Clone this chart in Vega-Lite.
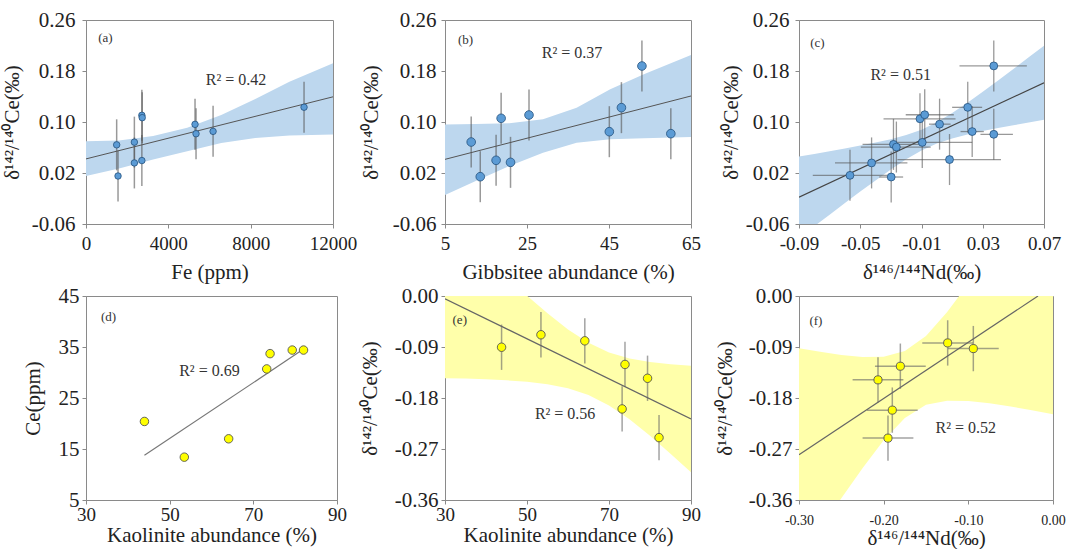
{
  "$schema": "https://vega.github.io/schema/vega-lite/v6.json",
  "background": "white",
  "padding": {"left": 0, "top": 8, "right": 0, "bottom": 0},
  "columns": 3,
  "spacing": {"row": 72, "column": 108},
  "align": "each",
  "bounds": "flush",
  "resolve": {"scale": {"x": "independent", "y": "independent"}},
  "config": {
    "font": "Liberation Serif, Times New Roman, serif",
    "view": {"stroke": "#8a8a8a", "strokeWidth": 1},
    "style": {"guide-label": {"font": "Liberation Serif, Times New Roman, serif"}, "guide-title": {"font": "Liberation Serif, Times New Roman, serif"}},
    "axis": {"grid": false, "domainColor": "#8a8a8a", "tickColor": "#8a8a8a", "tickSize": 4, "labelFont": "Liberation Serif, Times New Roman, serif", "titleFont": "Liberation Serif, Times New Roman, serif", "labelFontSize": 19, "titleFontSize": 21, "titleFontWeight": "normal", "labelColor": "#222222", "titleColor": "#222222", "labelFlush": false, "labelOverlap": false},
    "axisY": {"labelFontSize": 21},
    "text": {"font": "Liberation Serif, Times New Roman, serif", "color": "#333333"}
  },
  "datasets": {
    "bandA": [{"x":0,"y":0.0697,"y2":0.0153},{"x":1605,"y":0.071,"y2":0.027},{"x":3260,"y":0.078,"y2":0.041},{"x":4916,"y":0.091,"y2":0.054},{"x":6571,"y":0.111,"y2":0.067},{"x":8226,"y":0.136,"y2":0.075},{"x":9881,"y":0.163,"y2":0.079},{"x":12000,"y":0.192,"y2":0.0805}],
    "lineA": [{"x":0,"y":0.0421},{"x":12000,"y":0.1395}],
    "ptsA": [{"x":1490,"y":0.0642},{"x":1556,"y":0.0153},{"x":2350,"y":0.0684},{"x":2350,"y":0.0358},{"x":2714,"y":0.1105},{"x":2731,"y":0.1068},{"x":2714,"y":0.0395},{"x":5297,"y":0.0963},{"x":5346,"y":0.0816},{"x":6174,"y":0.0853},{"x":10593,"y":0.1232}],
    "evA": [{"x":1490,"y":0.0242,"y2":0.1042},{"x":1556,"y":-0.0247,"y2":0.0553},{"x":2350,"y":0.0284,"y2":0.1084},{"x":2350,"y":-0.0042,"y2":0.0758},{"x":2714,"y":0.0705,"y2":0.1505},{"x":2731,"y":0.0668,"y2":0.1468},{"x":2714,"y":-0.0005,"y2":0.0795},{"x":5297,"y":0.0563,"y2":0.1363},{"x":5346,"y":0.0416,"y2":0.1216},{"x":6174,"y":0.0453,"y2":0.1253},{"x":10593,"y":0.0832,"y2":0.1632}],
    "bandB": [{"x":5,"y":0.096,"y2":-0.0145},{"x":12.5,"y":0.097,"y2":0.0075},{"x":20.7,"y":0.098,"y2":0.031},{"x":28.9,"y":0.1045,"y2":0.0519},{"x":37.1,"y":0.1225,"y2":0.0676},{"x":45.3,"y":0.1512,"y2":0.0728},{"x":53.5,"y":0.1748,"y2":0.0744},{"x":65,"y":0.2051,"y2":0.0765}],
    "lineB": [{"x":5,"y":0.0414},{"x":65,"y":0.1408}],
    "ptsB": [{"x":11.39,"y":0.0686},{"x":13.6,"y":0.0142},{"x":17.46,"y":0.0399},{"x":18.69,"y":0.1058},{"x":20.98,"y":0.0367},{"x":25.49,"y":0.111},{"x":45.08,"y":0.0848},{"x":48.03,"y":0.1225},{"x":53.03,"y":0.1878},{"x":60.08,"y":0.0817}],
    "evB": [{"x":11.39,"y":0.0286,"y2":0.1086},{"x":13.6,"y":-0.0258,"y2":0.0542},{"x":17.46,"y":-0.0001,"y2":0.0799},{"x":18.69,"y":0.0658,"y2":0.1458},{"x":20.98,"y":-0.0033,"y2":0.0767},{"x":25.49,"y":0.071,"y2":0.151},{"x":45.08,"y":0.0448,"y2":0.1248},{"x":48.03,"y":0.0825,"y2":0.1625},{"x":53.03,"y":0.1478,"y2":0.2278},{"x":60.08,"y":0.0417,"y2":0.1217}],
    "bandC": [{"x":-0.09,"y":0.0458,"y2":-0.0818},{"x":-0.08,"y":0.0499,"y2":-0.0635},{"x":-0.07,"y":0.0541,"y2":-0.0453},{"x":-0.06,"y":0.0584,"y2":-0.0272},{"x":-0.05,"y":0.063,"y2":-0.0092},{"x":-0.04,"y":0.0678,"y2":0.0084},{"x":-0.03,"y":0.0731,"y2":0.0255},{"x":-0.02,"y":0.0795,"y2":0.0415},{"x":-0.01,"y":0.088,"y2":0.0554},{"x":0,"y":0.0996,"y2":0.0664},{"x":0.01,"y":0.1141,"y2":0.0743},{"x":0.02,"y":0.1303,"y2":0.0805},{"x":0.03,"y":0.1475,"y2":0.0857},{"x":0.04,"y":0.1652,"y2":0.0904},{"x":0.05,"y":0.1832,"y2":0.095},{"x":0.06,"y":0.2014,"y2":0.0992},{"x":0.07,"y":0.2196,"y2":0.1034}],
    "lineC": [{"x":-0.09,"y":-0.018},{"x":0.07,"y":0.1615}],
    "ptsC": [{"x":-0.0567,"y":0.0163},{"x":-0.0426,"y":0.0358},{"x":-0.0298,"y":0.0137},{"x":-0.0283,"y":0.0649},{"x":-0.0264,"y":0.0607},{"x":-0.011,"y":0.105},{"x":-0.0079,"y":0.1114},{"x":-0.0095,"y":0.068},{"x":0.0018,"y":0.0966},{"x":0.0083,"y":0.0411},{"x":0.0202,"y":0.123},{"x":0.0231,"y":0.085},{"x":0.0372,"y":0.188},{"x":0.0372,"y":0.0807}],
    "evC": [{"x":-0.0567,"y":-0.0237,"y2":0.0563},{"x":-0.0426,"y":-0.0042,"y2":0.0758},{"x":-0.0298,"y":-0.0263,"y2":0.0537},{"x":-0.0283,"y":0.0249,"y2":0.1049},{"x":-0.0264,"y":0.0207,"y2":0.1007},{"x":-0.011,"y":0.065,"y2":0.145},{"x":-0.0079,"y":0.0714,"y2":0.1514},{"x":-0.0095,"y":0.028,"y2":0.108},{"x":0.0018,"y":0.0566,"y2":0.1366},{"x":0.0083,"y":0.0011,"y2":0.0811},{"x":0.0202,"y":0.083,"y2":0.163},{"x":0.0231,"y":0.045,"y2":0.125},{"x":0.0372,"y":0.148,"y2":0.228},{"x":0.0372,"y":0.0407,"y2":0.1207}],
    "ehC": [{"x":-0.081,"x2":-0.0322,"y":0.0163},{"x":-0.0665,"x2":-0.0192,"y":0.0358},{"x":-0.0376,"x2":-0.022,"y":0.0137},{"x":-0.0485,"x2":-0.0073,"y":0.0649},{"x":-0.0496,"x2":-0.004,"y":0.0607},{"x":-0.0348,"x2":0.0122,"y":0.105},{"x":-0.0203,"x2":0.0111,"y":0.1114},{"x":-0.0279,"x2":0.0231,"y":0.068},{"x":-0.0051,"x2":0.009,"y":0.0966},{"x":-0.0257,"x2":0.0419,"y":0.0411},{"x":0.01,"x2":0.0296,"y":0.123},{"x":0.0155,"x2":0.0307,"y":0.085},{"x":0.0148,"x2":0.0588,"y":0.188},{"x":0.0285,"x2":0.0497,"y":0.0807}],
    "lineD": [{"x":43.97,"y":13.76},{"x":81.3,"y":34.2}],
    "ptsD": [{"x":43.97,"y":20.4},{"x":53.5,"y":13.4},{"x":64.1,"y":17.0},{"x":73.2,"y":30.7},{"x":74.0,"y":33.7},{"x":79.3,"y":34.4},{"x":82.0,"y":34.4}],
    "bandE": [{"x":30,"y":0.135,"y2":-0.145},{"x":35,"y":0.1007,"y2":-0.1457},{"x":40,"y":0.0666,"y2":-0.147},{"x":45,"y":0.033,"y2":-0.1488},{"x":50,"y":0.0005,"y2":-0.1515},{"x":55,"y":-0.0306,"y2":-0.1558},{"x":60,"y":-0.059,"y2":-0.1628},{"x":65,"y":-0.0825,"y2":-0.1747},{"x":70,"y":-0.0995,"y2":-0.1931},{"x":75,"y":-0.1101,"y2":-0.2177},{"x":80,"y":-0.1166,"y2":-0.2466},{"x":85,"y":-0.1204,"y2":-0.2782},{"x":90,"y":-0.123,"y2":-0.311}],
    "lineE": [{"x":30,"y":-0.0048},{"x":90,"y":-0.217}],
    "ptsE": [{"x":43.8,"y":-0.0904},{"x":53.4,"y":-0.0684},{"x":64.1,"y":-0.0791},{"x":73.9,"y":-0.1208},{"x":79.4,"y":-0.1452},{"x":73.2,"y":-0.1993},{"x":82.2,"y":-0.2499}],
    "evE": [{"x":43.8,"y":-0.1304,"y2":-0.0504},{"x":53.4,"y":-0.1084,"y2":-0.0284},{"x":64.1,"y":-0.1191,"y2":-0.0391},{"x":73.9,"y":-0.1608,"y2":-0.0808},{"x":79.4,"y":-0.1852,"y2":-0.1052},{"x":73.2,"y":-0.2393,"y2":-0.1593},{"x":82.2,"y":-0.2899,"y2":-0.2099}],
    "bandF": [{"x":-0.3,"y":-0.0921,"y2":-0.4681},{"x":-0.275,"y":-0.0986,"y2":-0.412},{"x":-0.25,"y":-0.1041,"y2":-0.3569},{"x":-0.225,"y":-0.1076,"y2":-0.3038},{"x":-0.2,"y":-0.1071,"y2":-0.2547},{"x":-0.175,"y":-0.0971,"y2":-0.2151},{"x":-0.15,"y":-0.0705,"y2":-0.1921},{"x":-0.125,"y":-0.0283,"y2":-0.1847},{"x":-0.1,"y":0.0218,"y2":-0.1852},{"x":-0.075,"y":0.0755,"y2":-0.1893},{"x":-0.05,"y":0.1307,"y2":-0.1949},{"x":-0.025,"y":0.1869,"y2":-0.2015},{"x":0,"y":0.2435,"y2":-0.2085}],
    "lineF": [{"x":-0.3,"y":-0.2801},{"x":-0.0177,"y":0}],
    "ptsF": [{"x":-0.2067,"y":-0.148},{"x":-0.1803,"y":-0.1239},{"x":-0.1898,"y":-0.2014},{"x":-0.1949,"y":-0.2508},{"x":-0.1244,"y":-0.0828},{"x":-0.0941,"y":-0.0928}],
    "evF": [{"x":-0.2067,"y":-0.188,"y2":-0.108},{"x":-0.1803,"y":-0.1639,"y2":-0.0839},{"x":-0.1898,"y":-0.2414,"y2":-0.1614},{"x":-0.1949,"y":-0.2908,"y2":-0.2108},{"x":-0.1244,"y":-0.1228,"y2":-0.0428},{"x":-0.0941,"y":-0.1328,"y2":-0.0528}],
    "ehF": [{"x":-0.2367,"x2":-0.1767,"y":-0.148},{"x":-0.2103,"x2":-0.1503,"y":-0.1239},{"x":-0.2198,"x2":-0.1598,"y":-0.2014},{"x":-0.2249,"x2":-0.1649,"y":-0.2508},{"x":-0.1544,"x2":-0.0944,"y":-0.0828},{"x":-0.1241,"x2":-0.0641,"y":-0.0928}]
  },
  "concat": [
    {
      "width": 247, "height": 204,
      "encoding": {
        "x": {"field": "x", "type": "quantitative", "scale": {"domain": [0, 12000], "nice": false, "zero": false}, "axis": {"values": [0, 4000, 8000, 12000], "format": "d", "title": "Fe (ppm)", "labelPadding": 6, "titlePadding": 8}},
        "y": {"field": "y", "type": "quantitative", "scale": {"domain": [-0.06, 0.26], "nice": false, "zero": false}, "axis": {"values": [-0.06, 0.02, 0.1, 0.18, 0.26], "format": ".2f", "labelExpr": "replace(datum.label, '−', '-')", "title": "δ¹⁴²/¹⁴⁰Ce(‰)", "labelPadding": 7, "titlePadding": 9}}
      },
      "layer": [
        {"data": {"name": "bandA"}, "mark": {"type": "area", "color": "#bdd7ee", "opacity": 1, "clip": true}, "encoding": {"y2": {"field": "y2"}}},
        {"data": {"name": "lineA"}, "mark": {"type": "line", "color": "#555555", "strokeWidth": 1, "clip": true}},
        {"data": {"name": "evA"}, "mark": {"type": "rule", "color": "#555555", "opacity": 0.6, "strokeWidth": 1.5}, "encoding": {"y2": {"field": "y2"}}},
        {"data": {"name": "ptsA"}, "mark": {"type": "point", "shape": "circle", "filled": true, "color": "#5b9bd5", "stroke": "#24527d", "strokeWidth": 0.8, "size": 42, "opacity": 1}},
        {"data": {"values": [{"x": 7290, "y": 0.166, "t": "R² = 0.42"}]}, "mark": {"type": "text", "fontSize": 16}, "encoding": {"text": {"field": "t"}}},
        {"data": {"values": [{"x": 942, "y": 0.232, "t": "(a)"}]}, "mark": {"type": "text", "fontSize": 13}, "encoding": {"text": {"field": "t"}}}
      ]
    },
    {
      "width": 246, "height": 204,
      "encoding": {
        "x": {"field": "x", "type": "quantitative", "scale": {"domain": [5, 65], "nice": false, "zero": false}, "axis": {"values": [5, 25, 45, 65], "format": "d", "title": "Gibbsitee abundance (%)", "labelPadding": 6, "titlePadding": 8}},
        "y": {"field": "y", "type": "quantitative", "scale": {"domain": [-0.06, 0.26], "nice": false, "zero": false}, "axis": {"values": [-0.06, 0.02, 0.1, 0.18, 0.26], "format": ".2f", "labelExpr": "replace(datum.label, '−', '-')", "title": "δ¹⁴²/¹⁴⁰Ce(‰)", "labelPadding": 5, "titlePadding": 11}}
      },
      "layer": [
        {"data": {"name": "bandB"}, "mark": {"type": "area", "color": "#bdd7ee", "opacity": 1, "clip": true}, "encoding": {"y2": {"field": "y2"}}},
        {"data": {"name": "lineB"}, "mark": {"type": "line", "color": "#555555", "strokeWidth": 1, "clip": true}},
        {"data": {"name": "evB"}, "mark": {"type": "rule", "color": "#555555", "opacity": 0.6, "strokeWidth": 1.5}, "encoding": {"y2": {"field": "y2"}}},
        {"data": {"name": "ptsB"}, "mark": {"type": "point", "shape": "circle", "filled": true, "color": "#5b9bd5", "stroke": "#24527d", "strokeWidth": 0.8, "size": 75, "opacity": 1}},
        {"data": {"values": [{"x": 36, "y": 0.209, "t": "R² = 0.37"}]}, "mark": {"type": "text", "fontSize": 16}, "encoding": {"text": {"field": "t"}}},
        {"data": {"values": [{"x": 10, "y": 0.229, "t": "(b)"}]}, "mark": {"type": "text", "fontSize": 13}, "encoding": {"text": {"field": "t"}}}
      ]
    },
    {
      "width": 245, "height": 204,
      "encoding": {
        "x": {"field": "x", "type": "quantitative", "scale": {"domain": [-0.09, 0.07], "nice": false, "zero": false}, "axis": {"values": [-0.09, -0.05, -0.01, 0.03, 0.07], "format": ".2f", "labelExpr": "replace(datum.label, '−', '-')", "title": "δ¹⁴⁶/¹⁴⁴Nd(‰)", "labelPadding": 6, "titlePadding": 8}},
        "y": {"field": "y", "type": "quantitative", "scale": {"domain": [-0.06, 0.26], "nice": false, "zero": false}, "axis": {"values": [-0.06, 0.02, 0.1, 0.18, 0.26], "format": ".2f", "labelExpr": "replace(datum.label, '−', '-')", "title": "δ¹⁴²/¹⁴⁰Ce(‰)", "labelPadding": 6, "titlePadding": 4}}
      },
      "layer": [
        {"data": {"name": "bandC"}, "mark": {"type": "area", "color": "#bdd7ee", "opacity": 1, "clip": true}, "encoding": {"y2": {"field": "y2"}}},
        {"data": {"name": "lineC"}, "mark": {"type": "line", "color": "#444444", "strokeWidth": 1.2, "clip": true}},
        {"data": {"name": "ehC"}, "mark": {"type": "rule", "color": "#555555", "opacity": 0.6, "strokeWidth": 1.3}, "encoding": {"x2": {"field": "x2"}}},
        {"data": {"name": "evC"}, "mark": {"type": "rule", "color": "#555555", "opacity": 0.6, "strokeWidth": 1.3}, "encoding": {"y2": {"field": "y2"}}},
        {"data": {"name": "ptsC"}, "mark": {"type": "point", "shape": "circle", "filled": true, "color": "#5b9bd5", "stroke": "#24527d", "strokeWidth": 0.8, "size": 62, "opacity": 1}},
        {"data": {"values": [{"x": -0.0236, "y": 0.173, "t": "R² = 0.51"}]}, "mark": {"type": "text", "fontSize": 16}, "encoding": {"text": {"field": "t"}}},
        {"data": {"values": [{"x": -0.078, "y": 0.224, "t": "(c)"}]}, "mark": {"type": "text", "fontSize": 13}, "encoding": {"text": {"field": "t"}}}
      ]
    },
    {
      "width": 251, "height": 204,
      "encoding": {
        "x": {"field": "x", "type": "quantitative", "scale": {"domain": [30, 90], "nice": false, "zero": false}, "axis": {"values": [30, 50, 70, 90], "format": "d", "title": "Kaolinite abundance (%)", "labelPadding": 1, "titlePadding": 0}},
        "y": {"field": "y", "type": "quantitative", "scale": {"domain": [5, 45], "nice": false, "zero": false}, "axis": {"values": [5, 15, 25, 35, 45], "format": "d", "title": "Ce(ppm)", "labelPadding": 3, "titlePadding": 15}}
      },
      "layer": [
        {"data": {"name": "lineD"}, "mark": {"type": "line", "color": "#777777", "strokeWidth": 1.2, "clip": true}},
        {"data": {"name": "ptsD"}, "mark": {"type": "point", "shape": "circle", "filled": true, "color": "#ffff00", "stroke": "#555555", "strokeWidth": 0.9, "size": 72, "opacity": 1}},
        {"data": {"values": [{"x": 59.5, "y": 30.2, "t": "R² = 0.69"}]}, "mark": {"type": "text", "fontSize": 16}, "encoding": {"text": {"field": "t"}}},
        {"data": {"values": [{"x": 35.4, "y": 40.9, "t": "(d)"}]}, "mark": {"type": "text", "fontSize": 13}, "encoding": {"text": {"field": "t"}}}
      ]
    },
    {
      "width": 246, "height": 204,
      "encoding": {
        "x": {"field": "x", "type": "quantitative", "scale": {"domain": [30, 90], "nice": false, "zero": false}, "axis": {"values": [30, 50, 70, 90], "format": "d", "title": "Kaolinite abundance (%)", "labelPadding": 1, "titlePadding": 0}},
        "y": {"field": "y", "type": "quantitative", "scale": {"domain": [-0.36, 0], "nice": false, "zero": false}, "axis": {"values": [-0.36, -0.27, -0.18, -0.09, 0], "format": ".2f", "labelExpr": "replace(datum.label, '−', '-')", "title": "δ¹⁴²/¹⁴⁰Ce(‰)", "labelPadding": 3, "titlePadding": 14}}
      },
      "layer": [
        {"data": {"name": "bandE"}, "mark": {"type": "area", "color": "#ffffaa", "opacity": 1, "clip": true}, "encoding": {"y2": {"field": "y2"}}},
        {"data": {"name": "lineE"}, "mark": {"type": "line", "color": "#666666", "strokeWidth": 1.2, "clip": true}},
        {"data": {"name": "evE"}, "mark": {"type": "rule", "color": "#666666", "opacity": 0.6, "strokeWidth": 1.5}, "encoding": {"y2": {"field": "y2"}}},
        {"data": {"name": "ptsE"}, "mark": {"type": "point", "shape": "circle", "filled": true, "color": "#ffff00", "stroke": "#555555", "strokeWidth": 0.9, "size": 72, "opacity": 1}},
        {"data": {"values": [{"x": 59.3, "y": -0.2085, "t": "R² = 0.56"}]}, "mark": {"type": "text", "fontSize": 16}, "encoding": {"text": {"field": "t"}}},
        {"data": {"values": [{"x": 33.6, "y": -0.043, "t": "(e)"}]}, "mark": {"type": "text", "fontSize": 13}, "encoding": {"text": {"field": "t"}}}
      ]
    },
    {
      "width": 254, "height": 204,
      "encoding": {
        "x": {"field": "x", "type": "quantitative", "scale": {"domain": [-0.3, 0], "nice": false, "zero": false}, "axis": {"values": [-0.3, -0.2, -0.1, 0], "format": ".2f", "labelExpr": "replace(datum.label, '−', '-')", "labelFontSize": 14, "title": "δ¹⁴⁶/¹⁴⁴Nd(‰)", "labelPadding": 9, "titlePadding": 0}},
        "y": {"field": "y", "type": "quantitative", "scale": {"domain": [-0.36, 0], "nice": false, "zero": false}, "axis": {"values": [-0.36, -0.27, -0.18, -0.09, 0], "format": ".2f", "labelExpr": "replace(datum.label, '−', '-')", "title": "δ¹⁴²/¹⁴⁰Ce(‰)", "labelPadding": 3, "titlePadding": 13}}
      },
      "layer": [
        {"data": {"name": "bandF"}, "mark": {"type": "area", "color": "#ffffaa", "opacity": 1, "clip": true}, "encoding": {"y2": {"field": "y2"}}},
        {"data": {"name": "lineF"}, "mark": {"type": "line", "color": "#666666", "strokeWidth": 1.2, "clip": true}},
        {"data": {"name": "ehF"}, "mark": {"type": "rule", "color": "#666666", "opacity": 0.6, "strokeWidth": 1.5}, "encoding": {"x2": {"field": "x2"}}},
        {"data": {"name": "evF"}, "mark": {"type": "rule", "color": "#666666", "opacity": 0.6, "strokeWidth": 1.5}, "encoding": {"y2": {"field": "y2"}}},
        {"data": {"name": "ptsF"}, "mark": {"type": "point", "shape": "circle", "filled": true, "color": "#ffff00", "stroke": "#555555", "strokeWidth": 0.9, "size": 66, "opacity": 1}},
        {"data": {"values": [{"x": -0.103, "y": -0.233, "t": "R² = 0.52"}]}, "mark": {"type": "text", "fontSize": 16}, "encoding": {"text": {"field": "t"}}},
        {"data": {"values": [{"x": -0.28, "y": -0.044, "t": "(f)"}]}, "mark": {"type": "text", "fontSize": 13}, "encoding": {"text": {"field": "t"}}}
      ]
    }
  ]
}
